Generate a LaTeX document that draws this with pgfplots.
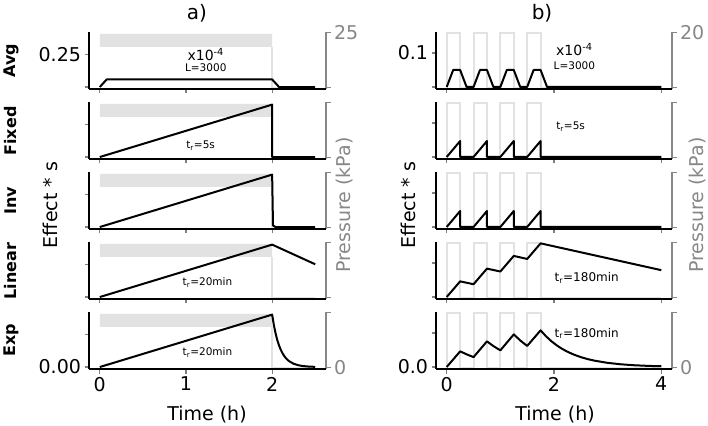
\documentclass[border=0pt]{standalone}
\usepackage{pgfplots}
\pgfplotsset{compat=1.18}
\usepackage{fontspec}
\setmainfont{DejaVu Sans}
\definecolor{pgray}{RGB}{226,226,226}
\definecolor{agray}{RGB}{135,135,135}
\newcommand{\fs}[1]{\fontsize{#1}{#1}\selectfont}
\tikzset{ann/.style={font=\fs{10.5}}}
\pgfplotsset{
  base/.style={scale only axis, height=57pt,
    axis line style={-, line width=1.2pt},
    tick style={line width=1.2pt},
    major tick length=4.5pt, tick align=outside,
    ticklabel style={font=\fs{19}},
    /pgf/number format/assume math mode=true,
    clip=false,
  },
  effect/.style={base, axis x line*=bottom, axis y line*=left},
  press/.style={base, hide x axis, axis y line*=right,
    y axis line style={agray}, ytick style={agray}, yticklabel style={agray}},
  colL/.style={width=237pt, xmin=-0.125, xmax=2.625, xtick={0,1,2}, xticklabels={,,}},
  colR/.style={width=236pt, xmin=-0.2, xmax=4.2, xtick={0,2,4}, xticklabels={,,}},
  effL/.style={effect, colL, ymin=-0.015, ymax=0.42, ytick={0,0.25}, yticklabels={,}},
  effR/.style={effect, colR, ymin=-0.006, ymax=0.162, ytick={0,0.1}, yticklabels={,}},
  prL/.style={press, colL, ymin=-0.6, ymax=25.1, ytick={0,25}, yticklabels={,}},
  prR/.style={press, colR, ymin=-0.5, ymax=20.1, ytick={0,20}, yticklabels={,}},
  dat/.style={black, line width=2pt, line join=round, no markers},
  pline/.style={pgray, line width=2pt, no markers},
}
\pgfplotstableread{
x y
0 0
0.08 0.058
2.0 0.058
2.08 0
2.5 0
}\avgL
\pgfplotstableread{
x y
0 0
2 0.4
2 0
2.5 0
}\fixL
\pgfplotstableread{
x y
0 0
2 0.4
2.01 0.012
2.04 0.0
2.5 0
}\invL
\pgfplotstableread{
x y
0 0
2 0.4
2.5 0.25
}\linL
\pgfplotstableread{
x y
0 0
2 0.4
2.02 0.3204
2.04 0.2565
2.06 0.2054
2.08 0.1644
2.10 0.1317
2.12 0.1054
2.14 0.0844
2.16 0.0676
2.18 0.0541
2.20 0.0434
2.25 0.0249
2.30 0.0143
2.35 0.0082
2.40 0.0047
2.45 0.0027
2.50 0.0015
}\expL
\pgfplotstableread{
x y
0 0
0.12 0.05
0.25 0.05
0.37 0
0.5 0
0.62 0.05
0.75 0.05
0.87 0
1.0 0
1.12 0.05
1.25 0.05
1.37 0
1.5 0
1.62 0.05
1.75 0.05
1.87 0
4 0
}\avgR
\pgfplotstableread{
x y
0 0
0.25 0.047
0.25 0
0.5 0
0.75 0.047
0.75 0
1.0 0
1.25 0.047
1.25 0
1.5 0
1.75 0.047
1.75 0
4 0
}\fixR
\pgfplotstableread{
x y
0 0
0.25 0.046
0.5 0.0375
0.75 0.0835
1.0 0.075
1.25 0.121
1.5 0.112
1.75 0.158
4 0.079
}\linR
\pgfplotstableread{
x y
0 0
0.25 0.046
0.375 0.0370
0.5 0.029
0.75 0.0755
0.875 0.0610
1.0 0.049
1.25 0.096
1.375 0.0775
1.5 0.062
1.75 0.108
1.85 0.0906
1.95 0.0760
2.05 0.0638
2.15 0.0535
2.25 0.0449
2.375 0.0361
2.5 0.0290
2.625 0.0233
2.75 0.0187
3.0 0.0121
3.25 0.0078
3.5 0.0050
3.75 0.0032
4.0 0.0021
}\expR
\pgfplotstableread{
x y
0 0
0 19.6
0.25 19.6
0.25 0
0.5 0
0.5 19.6
0.75 19.6
0.75 0
1.0 0
1.0 19.6
1.25 19.6
1.25 0
1.5 0
1.5 19.6
1.75 19.6
1.75 0
4 0
}\presR
\pgfplotstableread{
x y
0 18.4
2 18.4
2 24.3
0 24.3
0 18.4
}\bandL
\pgfplotstableread{
x y
2 18.4
2 0
2.5 0
}\dropL
\begin{document}
\begin{tikzpicture}[x=1pt,y=1pt]
\path[use as bounding box] (0,0) rectangle (708,425);
% ---------------- left column ----------------
\begin{axis}[prL, at={(89pt,336pt)}, yticklabels={,25}]
\addplot[fill=pgray, draw=none] table {\bandL};
\addplot[pline] table {\dropL};
\end{axis}
\begin{axis}[effL, at={(89pt,336pt)}, yticklabels={,0.25}]
\addplot[dat] table {\avgL};
\node[font=\fs{14}] at (axis cs:1.23,0.25) {x10\textsuperscript{-4}};
\node[ann] at (axis cs:1.23,0.144) {L=3000};
\end{axis}
\begin{axis}[prL, at={(89pt,266pt)}]
\addplot[fill=pgray, draw=none] table {\bandL};
\addplot[pline] table {\dropL};
\end{axis}
\begin{axis}[effL, at={(89pt,266pt)}]
\addplot[dat] table {\fixL};
\node[ann] at (axis cs:1.17,0.086) {t\textsubscript{r}=5s};
\end{axis}
\begin{axis}[prL, at={(89pt,196pt)}]
\addplot[fill=pgray, draw=none] table {\bandL};
\addplot[pline] table {\dropL};
\end{axis}
\begin{axis}[effL, at={(89pt,196pt)}]
\addplot[dat] table {\invL};
\end{axis}
\begin{axis}[prL, at={(89pt,126pt)}]
\addplot[fill=pgray, draw=none] table {\bandL};
\addplot[pline] table {\dropL};
\end{axis}
\begin{axis}[effL, at={(89pt,126pt)}]
\addplot[dat] table {\linL};
\node[ann] at (axis cs:1.25,0.109) {t\textsubscript{r}=20min};
\end{axis}
\begin{axis}[prL, at={(89pt,56pt)}, yticklabels={0,}]
\addplot[fill=pgray, draw=none] table {\bandL};
\addplot[pline] table {\dropL};
\end{axis}
\begin{axis}[effL, at={(89pt,56pt)}, yticklabels={0.00,}, xticklabels={0,1,2}]
\addplot[dat] table {\expL};
\node[ann] at (axis cs:1.25,0.11) {t\textsubscript{r}=20min};
\end{axis}
% ---------------- right column ----------------
\begin{axis}[prR, at={(436pt,336pt)}, yticklabels={,20}]
\addplot[pline] table {\presR};
\end{axis}
\begin{axis}[effR, at={(436pt,336pt)}, yticklabels={,0.1}]
\addplot[dat] table {\avgR};
\node[font=\fs{14}] at (axis cs:2.38,0.111) {x10\textsuperscript{-4}};
\node[ann] at (axis cs:2.38,0.064) {L=3000};
\end{axis}
\begin{axis}[prR, at={(436pt,266pt)}]
\addplot[pline] table {\presR};
\end{axis}
\begin{axis}[effR, at={(436pt,266pt)}]
\addplot[dat] table {\fixR};
\node[ann] at (axis cs:2.31,0.09) {t\textsubscript{r}=5s};
\end{axis}
\begin{axis}[prR, at={(436pt,196pt)}]
\addplot[pline] table {\presR};
\end{axis}
\begin{axis}[effR, at={(436pt,196pt)}]
\addplot[dat] table {\fixR};
\end{axis}
\begin{axis}[prR, at={(436pt,126pt)}]
\addplot[pline] table {\presR};
\end{axis}
\begin{axis}[effR, at={(436pt,126pt)}]
\addplot[dat] table {\linR};
\node[font=\fs{12}] at (axis cs:2.61,0.057) {t\textsubscript{r}=180min};
\end{axis}
\begin{axis}[prR, at={(436pt,56pt)}, yticklabels={0,}]
\addplot[pline] table {\presR};
\end{axis}
\begin{axis}[effR, at={(436pt,56pt)}, yticklabels={0.0,}, xticklabels={0,2,4}]
\addplot[dat] table {\expR};
\node[font=\fs{12}] at (axis cs:2.61,0.099) {t\textsubscript{r}=180min};
\end{axis}
% ---------------- labels ----------------
\node[font=\fs{20}] at (197,412) {a)};
\node[font=\fs{20}] at (542,412) {b)};
\node[font=\fs{19}] at (207,10) {Time (h)};
\node[font=\fs{19}] at (555,10) {Time (h)};
\node[font=\fs{19}, rotate=90] at (50,220) {Effect * s};
\node[font=\fs{19}, rotate=90] at (408,220) {Effect * s};
\node[font=\fs{19}, rotate=90, text=agray] at (345,220) {Pressure (kPa)};
\node[font=\fs{19}, rotate=90, text=agray] at (698,220) {Pressure (kPa)};
\node[font=\bfseries\fs{16}, rotate=90] at (11,364.5) {Avg};
\node[font=\bfseries\fs{16}, rotate=90] at (11,294) {Fixed};
\node[font=\bfseries\fs{16}, rotate=90] at (11,224.5) {Inv};
\node[font=\bfseries\fs{16}, rotate=90] at (11,154) {Linear};
\node[font=\bfseries\fs{16}, rotate=90] at (11,84.5) {Exp};
\end{tikzpicture}
\end{document}
